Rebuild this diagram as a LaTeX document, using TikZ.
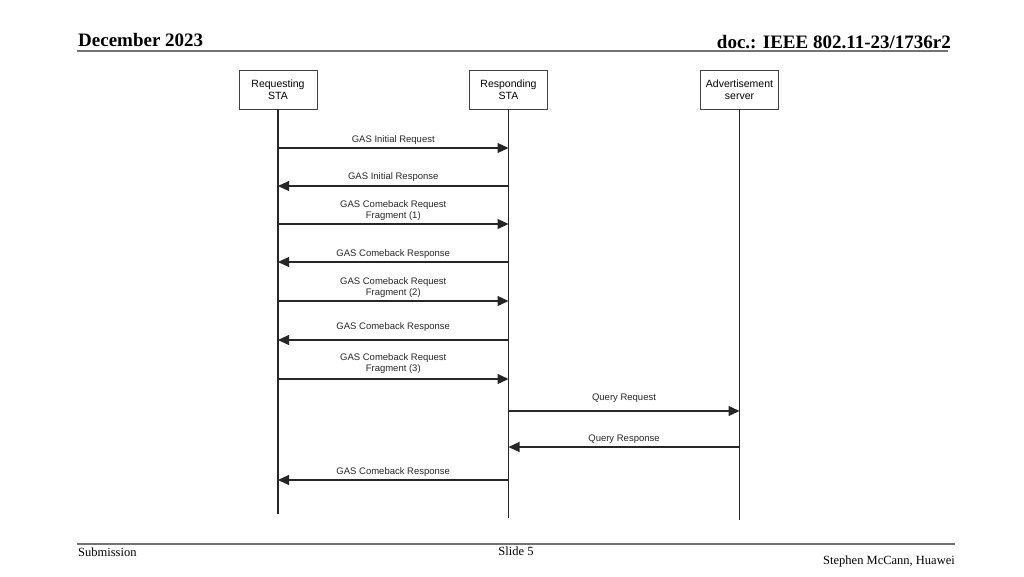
\documentclass[tikz,border=0pt]{standalone}
\usepackage{fontspec}
\setmainfont{Liberation Serif}
\setsansfont{Liberation Sans}
\usetikzlibrary{arrows.meta}

\tikzset{
  actor/.style={draw=black!75, line width=0.8pt, fill=white, minimum width=78pt,
    minimum height=39pt, align=center, inner sep=1pt,
    font=\sffamily\fontsize{10.5}{11.5}\selectfont},
  life/.style={line width=1.1pt, black!85},
  msg/.style={line width=1.1pt, black!85, -{Triangle[length=11pt,width=10pt]}},
  msglabel/.style={font=\sffamily\fontsize{9.5}{11}\selectfont, align=center,
    inner sep=2.5pt, text=black!85},
  rule/.style={line width=1.6pt, black!55}
}

\begin{document}
\begin{tikzpicture}[x=1pt,y=-1pt]
\useasboundingbox (0,0) rectangle (1024,576);

% slide header and footer
\draw[rule] (77,51) -- (948,51);
\node[anchor=base west, inner sep=0, font=\bfseries\fontsize{19}{22}\selectfont] (date) at (78,46) {December 2023};
\node[anchor=base east, inner sep=0, font=\bfseries\fontsize{19}{22}\selectfont] (docnum) at (951,48) {doc.: IEEE 802.11-23/1736r2};
\draw[rule] (77,544) -- (955,544);
\node[anchor=base west, inner sep=0, font=\fontsize{12.5}{14}\selectfont] (subm) at (78,556) {Submission};
\node[anchor=base, inner sep=0, font=\fontsize{12.5}{14}\selectfont] (slide) at (516,555) {Slide 5};
\node[anchor=base east, inner sep=0, font=\fontsize{12.5}{14}\selectfont] (author) at (955,564) {Stephen McCann, Huawei};

% participants
\node[actor] (req) at (278,89.5) {Requesting\\STA};
\node[actor] (resp) at (508.5,89.5) {Responding\\STA};
\node[actor] (adv) at (739.5,89.5) {Advertisement\\server};

\coordinate (req end) at (278,514);
\coordinate (resp end) at (508.5,518);
\coordinate (adv end) at (739.5,520);
\draw[life] (req) -- (req end);
\draw[life] (resp) -- (resp end);
\draw[life] (adv) -- (adv end);

% points on the lifelines
\foreach \n/\y in {1/148,2/186,3/224,4/262,5/301,6/340,7/379,8/411,9/447,10/480}
{
\coordinate (req\n) at (278,\y);
\coordinate (resp\n) at (508.5,\y);
\coordinate (adv\n) at (739.5,\y);
}

% messages
\draw[msg] (req1) -- node[msglabel, above] {GAS Initial Request} (resp1);
\draw[msg] (resp2) -- node[msglabel, above, yshift=1pt] {GAS Initial Response} (req2);
\draw[msg] (req3) -- node[msglabel, above] {GAS Comeback Request\\Fragment (1)} (resp3);
\draw[msg] (resp4) -- node[msglabel, above] {GAS Comeback Response} (req4);
\draw[msg] (req5) -- node[msglabel, above] {GAS Comeback Request\\Fragment (2)} (resp5);
\draw[msg] (resp6) -- node[msglabel, above, yshift=5pt] {GAS Comeback Response} (req6);
\draw[msg] (req7) -- node[msglabel, above, yshift=2pt] {GAS Comeback Request\\Fragment (3)} (resp7);
\draw[msg] (resp8) -- node[msglabel, above, yshift=5pt] {Query Request} (adv8);
\draw[msg] (adv9) -- node[msglabel, above] {Query Response} (resp9);
\draw[msg] (resp10) -- node[msglabel, above] {GAS Comeback Response} (req10);

\end{tikzpicture}
\end{document}
